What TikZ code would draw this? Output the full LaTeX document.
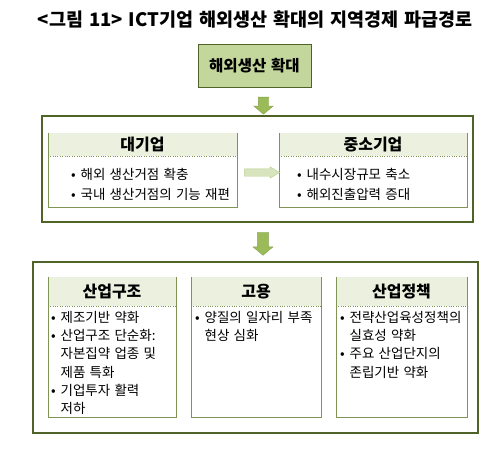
\documentclass[tikz,border=0pt]{standalone}
\usepackage{fontspec}
\setmainfont{Noto Sans CJK KR}[WordSpace=1.4]
\usepackage{tikz}
\usetikzlibrary{shapes, shapes.arrows, positioning}
\definecolor{darkolive}{HTML}{4F6228}
\definecolor{olivefill}{HTML}{C3D69B}
\definecolor{headfill}{HTML}{EBF1DE}
\definecolor{panelline}{HTML}{7F9455}
\definecolor{arrowgreen}{HTML}{9BBB59}
\definecolor{palegreen}{HTML}{D7E4BD}
\tikzstyle{olive} = [rectangle, minimum width = 113pt, minimum height = 43pt, draw = darkolive, fill = olivefill, font = \bfseries\fontsize{15.5}{17}\selectfont]
\tikzstyle{frame} = [rectangle, draw = darkolive, line width = 2.2pt, fill = white]
\tikzstyle{panel} = [rectangle, draw = panelline, fill = white, inner sep = 0pt]
\tikzstyle{header} = [rectangle, fill = headfill, inner sep = 0pt, font = \bfseries\fontsize{16}{18}\selectfont]
\tikzstyle{items} = [anchor = north west, align = left, inner sep = 0pt, font = \fontsize{13.5}{20}\selectfont]
\tikzstyle{downarrow} = [single arrow, rotate = -90, draw = arrowgreen!85!black, fill = arrowgreen, inner sep = 5pt, single arrow head extend = 4.5pt, single arrow tip angle = 100]
\tikzstyle{sidearrow} = [single arrow, draw = arrowgreen!70, fill = palegreen, inner sep = 3.5pt, single arrow head extend = 2pt, single arrow tip angle = 62]
\newcommand{\pt}{\makebox[0.7em][l]{\textbullet}}
\newcommand{\ind}{\hspace*{0.7em}}

\begin{document}
\begin{tikzpicture}[x=1pt, y=-1pt]
\useasboundingbox (0,0) rectangle (503,448);

\node (title) [font = \bfseries\fontsize{18.5}{22}\selectfont] at (255,20) {<그림 11> ICT기업 해외생산 확대의 지역경제 파급경로} ;

\node (0) [olive] at (254.5,65.5) {해외생산 확대} ;
\node (d1) [downarrow, minimum width = 19pt, minimum height = 17pt] at (263.5,103.5) {} ;

% first tier
\node (1) [frame, minimum width = 431pt, minimum height = 106pt] at (257.5,169) {} ;
\node (1a) [panel, minimum width = 189pt, minimum height = 74pt] at (142.5,170) {} ;
\node (1ah) [header, minimum width = 188pt, minimum height = 22.5pt] at (142.5,144.5) {대기업} ;
\node (1b) [panel, minimum width = 188pt, minimum height = 74pt] at (373,170) {} ;
\node (1bh) [header, minimum width = 187pt, minimum height = 22.5pt] at (373,144.5) {중소기업} ;
\draw[panelline, dotted] (1a.west |- 1ah.south) -- (1a.east |- 1ah.south) ;
\draw[panelline, dotted] (1b.west |- 1bh.south) -- (1b.east |- 1bh.south) ;
\node (1at) [items] at (71,168) {\pt 해외 생산거점 확충\\ \pt 국내 생산거점의 기능 재편} ;
\node (1bt) [items] at (297,168) {\pt 내수시장규모 축소\\ \pt 해외진출압력 증대} ;
\node (s1) [sidearrow, minimum width = 11pt, minimum height = 35pt] at (259,172.5) {} ;

\node (d2) [downarrow, minimum width = 20pt, minimum height = 23pt] at (263,241.5) {} ;

% second tier
\node (2) [frame, minimum width = 445pt, minimum height = 171pt] at (255.5,347.5) {} ;
\node (2a) [panel, minimum width = 128pt, minimum height = 140pt] at (112,347) {} ;
\node (2ah) [header, minimum width = 127pt, minimum height = 28.5pt] at (112,291.5) {산업구조} ;
\node (2b) [panel, minimum width = 130pt, minimum height = 140pt] at (256,347) {} ;
\node (2bh) [header, minimum width = 129pt, minimum height = 28.5pt] at (256,291.5) {고용} ;
\node (2c) [panel, minimum width = 131pt, minimum height = 140pt] at (401.5,347) {} ;
\node (2ch) [header, minimum width = 130pt, minimum height = 28.5pt] at (401.5,291.5) {산업정책} ;
\foreach \p in {2a, 2b, 2c}
  \draw[panelline, dotted] (\p.west |- \p h.south) -- (\p.east |- \p h.south) ;
\node (2at) [items, font = \fontsize{13.5}{18.3}\selectfont] at (51,311) {\pt 제조기반 약화\\ \pt 산업구조 단순화:\\ \ind 자본집약 업종 및\\ \ind 제품 특화\\ \pt 기업투자 활력\\ \ind 저하} ;
\node (2bt) [items, font = \fontsize{13.5}{18.3}\selectfont] at (195,311) {\pt 양질의 일자리 부족\\ \ind 현상 심화} ;
\node (2ct) [items, font = \fontsize{13.5}{18.3}\selectfont] at (340,311) {\pt 전략산업육성정책의\\ \ind 실효성 약화\\ \pt 주요 산업단지의\\ \ind 존립기반 약화} ;
\end{tikzpicture}
\end{document}
